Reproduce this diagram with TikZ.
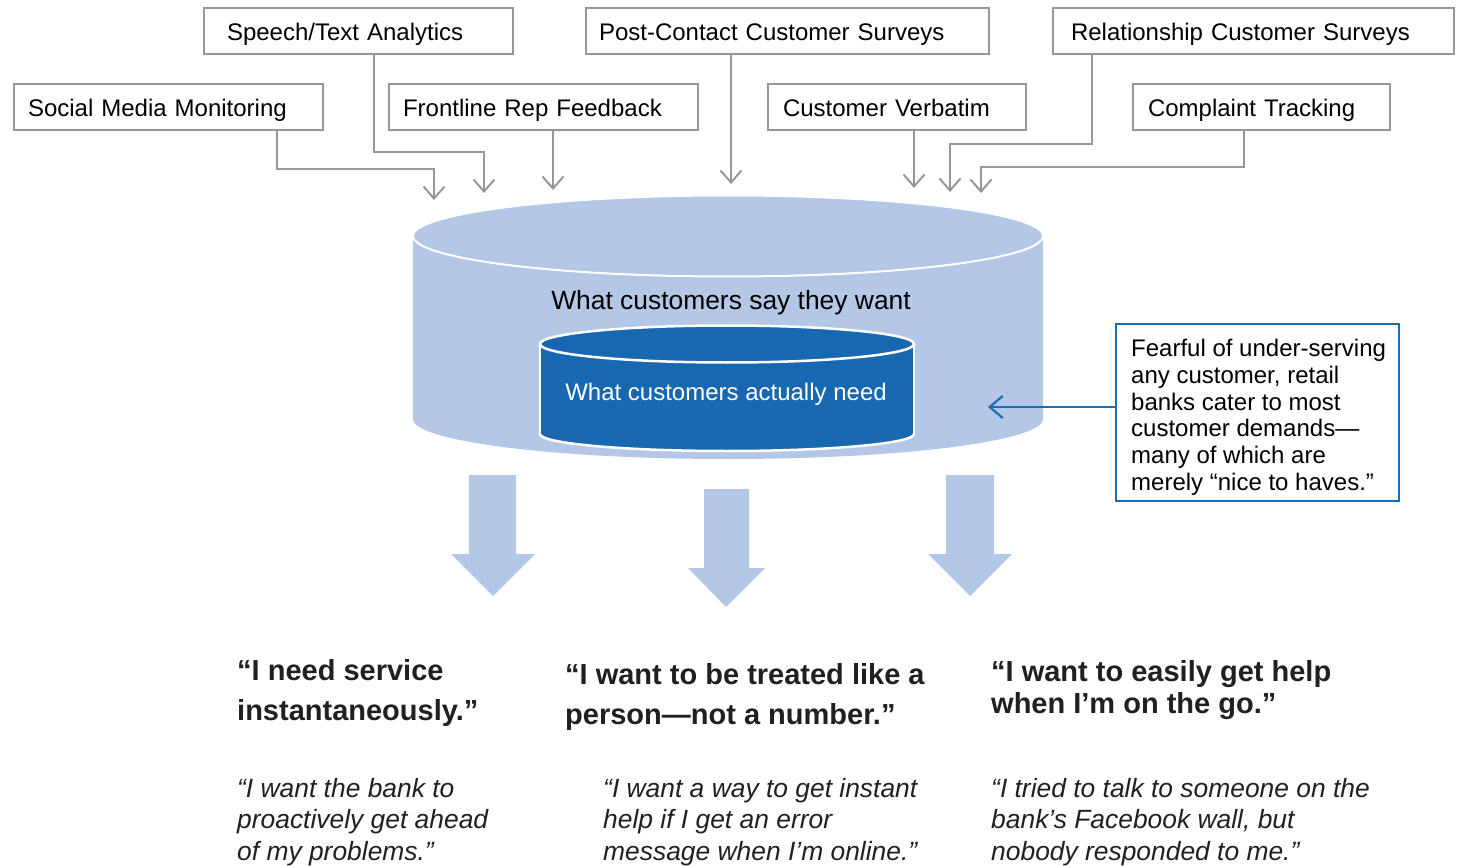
\documentclass[tikz,border=0pt]{standalone}
\usepackage{fontspec}
\setmainfont{Liberation Sans}
\usetikzlibrary{arrows.meta}
\definecolor{boxgray}{HTML}{979797}
\definecolor{lightblue}{HTML}{B4C7E7}
\definecolor{darkblue}{HTML}{1767B1}
\definecolor{noteblue}{HTML}{1B6DB5}
\definecolor{txt}{HTML}{231F20}
\begin{document}
\begin{tikzpicture}[x=1pt,y=-1pt,
  src/.style={draw=boxgray, line width=2pt, fill=white, minimum height=46pt,
    align=left, font=\fontsize{24}{28}\selectfont, text=black, anchor=north west,
    inner ysep=0pt, outer sep=0pt, text height=22pt, text depth=3.4pt},
  conn/.style={draw=boxgray, line width=2pt, line join=miter,
    -{Straight Barb[length=12pt,width=21pt]}},
  noteconn/.style={draw=noteblue, line width=2.2pt,
    -{Straight Barb[length=13pt,width=22pt]}},
  heading/.style={anchor=north west, inner sep=0pt, align=left, text=txt,
    font=\bfseries\fontsize{29}{40}\selectfont},
  quote/.style={anchor=north west, inner sep=0pt, align=left, text=txt,
    font=\itshape\fontsize{26.4}{31.7}\selectfont},
  blockarrow/.style={fill=lightblue}
]
\useasboundingbox (0,0) rectangle (1458,866);

% ---------- source boxes ----------
\node[src, text width=263pt, inner xsep=23pt] (sp)   at (204,8)   {Speech/Text Analytics};
\node[src, text width=377pt, inner xsep=13pt] (post) at (586,8)   {Post-Contact Customer Surveys};
\node[src, text width=365pt, inner xsep=18pt] (rel)  at (1053,8)  {Relationship Customer Surveys};
\node[src, text width=281pt, inner xsep=14pt] (soc)  at (14,84)   {Social Media Monitoring};
\node[src, text width=281pt, inner xsep=14pt] (fr)   at (389,84)  {Frontline Rep Feedback};
\node[src, text width=228pt, inner xsep=15pt] (ver)  at (768,84)  {Customer Verbatim};
\node[src, text width=227pt, inner xsep=15pt] (comp) at (1133,84) {Complaint Tracking};

% ---------- connector end points ----------
\coordinate (b1) at (434,169); \coordinate (t1) at (434,200);
\coordinate (b2) at (484,152); \coordinate (t2) at (484,193);
\coordinate (t3) at (553,190);
\coordinate (t4) at (731,184);
\coordinate (t5) at (914,188);
\coordinate (b6) at (950,144); \coordinate (t6) at (950,192);
\coordinate (b7) at (981,167); \coordinate (t7) at (981,193);
\coordinate (t8) at (988,407);

% ---------- outer cylinder ----------
\fill[lightblue] (413,236) rectangle (1043,419);
\fill[lightblue] (728,419) ellipse [x radius=315, y radius=40];
\filldraw[fill=lightblue, draw=white, line width=2pt] (728,236) ellipse [x radius=315, y radius=40.5];

% ---------- inner cylinder ----------
\filldraw[fill=darkblue, draw=white, line width=2.5pt] (727,434) ellipse [x radius=187, y radius=17];
\fill[darkblue] (540,344) rectangle (914,434);
\draw[white, line width=2.5pt] (540,344) -- (540,434) (914,344) -- (914,434);
\filldraw[fill=darkblue, draw=white, line width=2.5pt] (727,344) ellipse [x radius=187, y radius=18.5];

\node[font=\fontsize{26.4}{30}\selectfont, text=black] (want) at (731,303) {What customers say they want};
\node[font=\fontsize{24}{28}\selectfont, text=white] (need) at (726,394) {What customers actually need};

% ---------- connectors ----------
\draw[conn] ([xshift=108.5pt]soc.south) |- (b1) -- (t1);
\draw[conn] ([xshift=15.5pt]sp.south) |- (b2) -- (t2);
\draw[conn] (t3 |- fr.south) -- (t3);
\draw[conn] (t4 |- post.south) -- (t4);
\draw[conn] (t5 |- ver.south) -- (t5);
\draw[conn] ([xshift=-161.5pt]rel.south) |- (b6) -- (t6);
\draw[conn] ([xshift=-17.5pt]comp.south) |- (b7) -- (t7);

% ---------- callout ----------
\node[draw=noteblue, line width=2pt, minimum width=283pt, minimum height=177pt,
      anchor=north west, outer sep=0pt, inner sep=0pt] (note) at (1116,324) {};
\node[anchor=north west, inner sep=0pt, align=left, text=black,
      font=\fontsize{24}{26.7}\selectfont] (notetext) at (1131,339.3)
  {Fearful of under-serving\\any customer, retail\\banks cater to most\\customer demands—\\many of which are\\merely “nice to haves.”};
\draw[noteconn] (note.west |- t8) -- (t8);

% ---------- block arrows ----------
\fill[blockarrow] (469,475) -- (516,475) -- (516,554) -- (535,554) -- (493,596) -- (451,554) -- (469,554) -- cycle;
\fill[blockarrow] (704,489) -- (749,489) -- (749,568) -- (765,568) -- (726,607) -- (688,568) -- (704,568) -- cycle;
\fill[blockarrow] (946,475) -- (994,475) -- (994,554) -- (1012,554) -- (970,596) -- (928,554) -- (946,554) -- cycle;

% ---------- headings ----------
\node[heading] (h1) at (237,658.8) {“I need service\\instantaneously.”};
\node[heading] (h2) at (565,662.8) {“I want to be treated like a\\person—not a number.”};
\node[heading, font=\bfseries\fontsize{29}{32}\selectfont] (h3) at (991,659.8) {“I want to easily get help\\when I’m on the go.”};

% ---------- quotes ----------
\node[quote] (q1) at (237,777.7) {“I want the bank to\\proactively get ahead\\of my problems.”};
\node[quote] (q2) at (603,777.7) {“I want a way to get instant\\help if I get an error\\message when I’m online.”};
\node[quote] (q3) at (991,777.7) {“I tried to talk to someone on the\\bank’s Facebook wall, but\\nobody responded to me.”};
\end{tikzpicture}
\end{document}
